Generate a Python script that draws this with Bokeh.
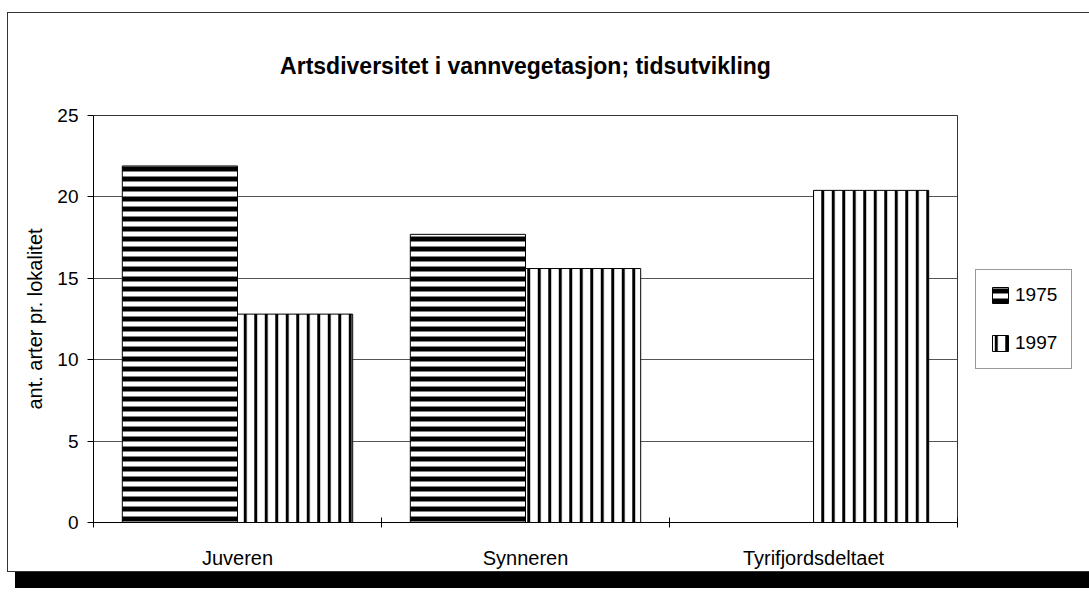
from bokeh.plotting import figure
from bokeh.models import (ColumnDataSource, Range1d, FixedTicker, Legend, LegendItem)
from bokeh.embed import file_html
from bokeh.resources import INLINE

title_text = "Artsdiversitet i vannvegetasjon; tidsutvikling"
y_label = "ant. arter pr. lokalitet"
categories = ["Juveren", "Synneren", "Tyrifjordsdeltaet"]
series_names = ["1975", "1997"]
values_1975 = [21.9, 17.7, 0.0]
values_1997 = [12.8, 15.6, 20.4]
y_ticks = [0, 5, 10, 15, 20, 25]

FONT = "Liberation Sans"

centers = [i + 0.5 for i in range(len(categories))]
src = ColumnDataSource(dict(
    x1975=[c - 0.2 for c in centers],
    x1997=[c + 0.2 for c in centers],
    v1975=values_1975,
    v1997=values_1997,
))

p = figure(frame_width=864, frame_height=407, output_backend="svg", toolbar_location=None,
           x_range=Range1d(0, len(categories)), y_range=Range1d(0, 25),
           min_border_left=85, min_border_right=129, min_border_top=102,
           min_border_bottom=48)
p.styles = {"border": "1px solid #333", "box-shadow": "8px 16px 0 #000",
            "margin-left": "7px", "margin-top": "12px"}

p.title.text = title_text
p.title.align = "center"
p.title.text_font = FONT
p.title.text_font_size = "23px"
p.title.text_font_style = "bold"
p.title.text_color = "black"
p.title.standoff = 74
p.title.offset = -10

r1 = p.vbar(x="x1975", top="v1975", width=0.4, bottom=0, source=src,
            fill_color="white", line_color="black", line_width=1,
            hatch_pattern="horizontal_line", hatch_color="black",
            hatch_weight=5, hatch_scale=10)
r2 = p.vbar(x="x1997", top="v1997", width=0.4, bottom=0, source=src,
            fill_color="white", line_color="black", line_width=1,
            hatch_pattern="vertical_line", hatch_color="black",
            hatch_weight=3, hatch_scale=10.5)

# axes
p.xaxis.ticker = FixedTicker(ticks=centers, minor_ticks=list(range(len(categories) + 1)))
p.xaxis.major_label_overrides = {c: n for c, n in zip(centers, categories)}
p.xaxis.major_tick_in = 0
p.xaxis.major_tick_out = 0
p.xaxis.minor_tick_in = 5
p.xaxis.minor_tick_out = 5
p.xaxis.minor_tick_line_color = "black"
p.xaxis.major_label_standoff = 19
p.xaxis.axis_line_color = "black"

p.yaxis.ticker = FixedTicker(ticks=y_ticks)
p.yaxis.minor_tick_line_color = None
p.yaxis.major_tick_in = 0
p.yaxis.major_tick_out = 6
p.yaxis.major_label_standoff = 9
p.yaxis.axis_label = y_label
p.yaxis.axis_label_standoff = 8
p.yaxis.axis_label_text_font_style = "normal"
p.yaxis.axis_line_color = "black"

for ax in (p.xaxis, p.yaxis):
    ax.major_label_text_font = FONT
    ax.major_label_text_font_size = "19px"
    ax.major_label_text_color = "black"
    ax.axis_label_text_font = FONT
    ax.axis_label_text_font_size = "20px"
    ax.axis_label_text_color = "black"
p.xaxis.major_label_text_font_size = "20px"

p.xgrid.grid_line_color = None
p.ygrid.grid_line_color = "#555555"
p.ygrid.grid_line_width = 1
p.ygrid.ticker = FixedTicker(ticks=y_ticks)

p.outline_line_color = "#333333"
p.outline_line_width = 1
p.background_fill_color = "white"
p.border_fill_color = "white"

legend = Legend(items=[LegendItem(label=series_names[0], renderers=[r1]),
                       LegendItem(label=series_names[1], renderers=[r2])],
                location="left", orientation="vertical")
legend.label_text_font = FONT
legend.label_text_font_size = "19px"
legend.label_text_color = "black"
legend.glyph_width = 20
legend.glyph_height = 20
legend.spacing = 26
legend.padding = 14
legend.margin = 18
legend.border_line_color = "#333333"
legend.border_line_width = 1
legend.background_fill_alpha = 1
p.add_layout(legend, "right")

open("out.html", "w").write(file_html(p, INLINE))
